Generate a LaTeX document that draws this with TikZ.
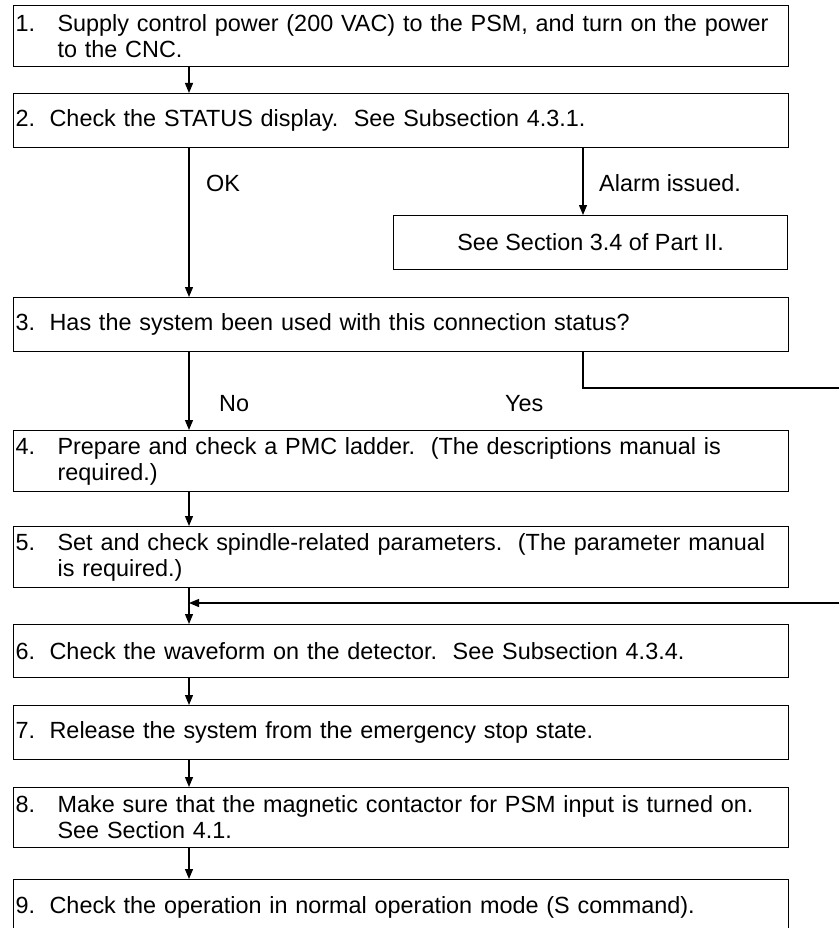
\documentclass[tikz,border=0pt]{standalone}
\usepackage{fontspec}
\setmainfont{Liberation Sans}
\usetikzlibrary{arrows.meta,positioning,calc}

\newcommand{\stepfont}{\fontsize{23.4}{26}\selectfont}
\newcommand{\hang}{\hspace*{42pt}}
\newcommand{\num}[1]{\makebox[42pt][l]{#1}}
\newcommand{\numb}[1]{\makebox[34pt][l]{#1}}

\tikzset{
  stepbox/.style={draw, line width=1.2pt, anchor=north west, minimum width=775pt,
    text width=770pt, inner xsep=2.5pt, inner ysep=0pt, align=left, font=\stepfont},
  notebox/.style={draw, line width=1.2pt, anchor=north west, minimum width=394pt,
    minimum height=54pt, align=center, font=\stepfont},
  lbl/.style={anchor=west, inner sep=0pt, font=\stepfont},
  arr/.style={line width=1.2pt, -{Triangle[length=10pt,width=8pt]}},
  wire/.style={line width=1.2pt}
}

\begin{document}
\begin{tikzpicture}[x=1pt,y=-1pt]
  \useasboundingbox (0,0) rectangle (839,928);
  \clip (0,0) rectangle (839,928);
  \coordinate (spine) at (189,0);
  \coordinate (tap) at (583,0);

  \node[stepbox, minimum height=61pt] (b1) at (12.5,5)
    {\num{1.}Supply control power (200 VAC) to the PSM, and turn on the power\\\hang to the CNC.};
  \node[stepbox, minimum height=54pt] (b2) at (12.5,93)
    {\numb{2.}Check the STATUS display.\ \ See Subsection 4.3.1.};
  \node[notebox] (alarm) at (393,215) {See Section 3.4 of Part II.};
  \node[stepbox, minimum height=54pt] (b3) at (12.5,297)
    {\numb{3.}Has the system been used with this connection status?};
  \node[stepbox, minimum height=61pt] (b4) at (12.5,430)
    {\num{4.}Prepare and check a PMC ladder.\ \ (The descriptions manual is\\\hang required.)};
  \node[stepbox, minimum height=61pt] (b5) at (12.5,526)
    {\num{5.}Set and check spindle-related parameters.\ \ (The parameter manual\\\hang is required.)};
  \node[stepbox, minimum height=53pt] (b6) at (12.5,624)
    {\numb{6.}Check the waveform on the detector.\ \ See Subsection 4.3.4.};
  \node[stepbox, minimum height=54pt] (b7) at (12.5,705)
    {\numb{7.}Release the system from the emergency stop state.};
  \node[stepbox, minimum height=60pt] (b8) at (12.5,787)
    {\num{8.}Make sure that the magnetic contactor for PSM input is turned on.\\\hang See Section 4.1.};
  \node[stepbox, minimum height=56pt] (b9) at (12.5,879)
    {\numb{9.}Check the operation in normal operation mode (S command).};

  \node[lbl] (ok) at (206,183) {OK};
  \node[lbl] (alarmlbl) at (599,183) {Alarm issued.};
  \node[lbl] (no) at (219,404) {No};
  \node[lbl] (yes) at (505,404) {Yes};

  \coordinate (yesout) at (839,388);
  \coordinate (yesin) at (839,603);

  \draw[arr] (b1.south -| spine) -- (b2.north -| spine);
  \draw[arr] (b2.south -| spine) -- (b3.north -| spine);
  \draw[arr] (b2.south -| tap) -- (alarm.north -| tap);
  \draw[arr] (b3.south -| spine) -- (b4.north -| spine);
  \draw[wire] (b3.south -| tap) |- (yesout);
  \draw[arr] (b4.south -| spine) -- (b5.north -| spine);
  \draw[arr] (b5.south -| spine) -- (b6.north -| spine);
  \draw[arr] (yesin) -- (yesin -| spine);
  \draw[arr] (b6.south -| spine) -- (b7.north -| spine);
  \draw[arr] (b7.south -| spine) -- (b8.north -| spine);
  \draw[arr] (b8.south -| spine) -- (b9.north -| spine);
\end{tikzpicture}
\end{document}
